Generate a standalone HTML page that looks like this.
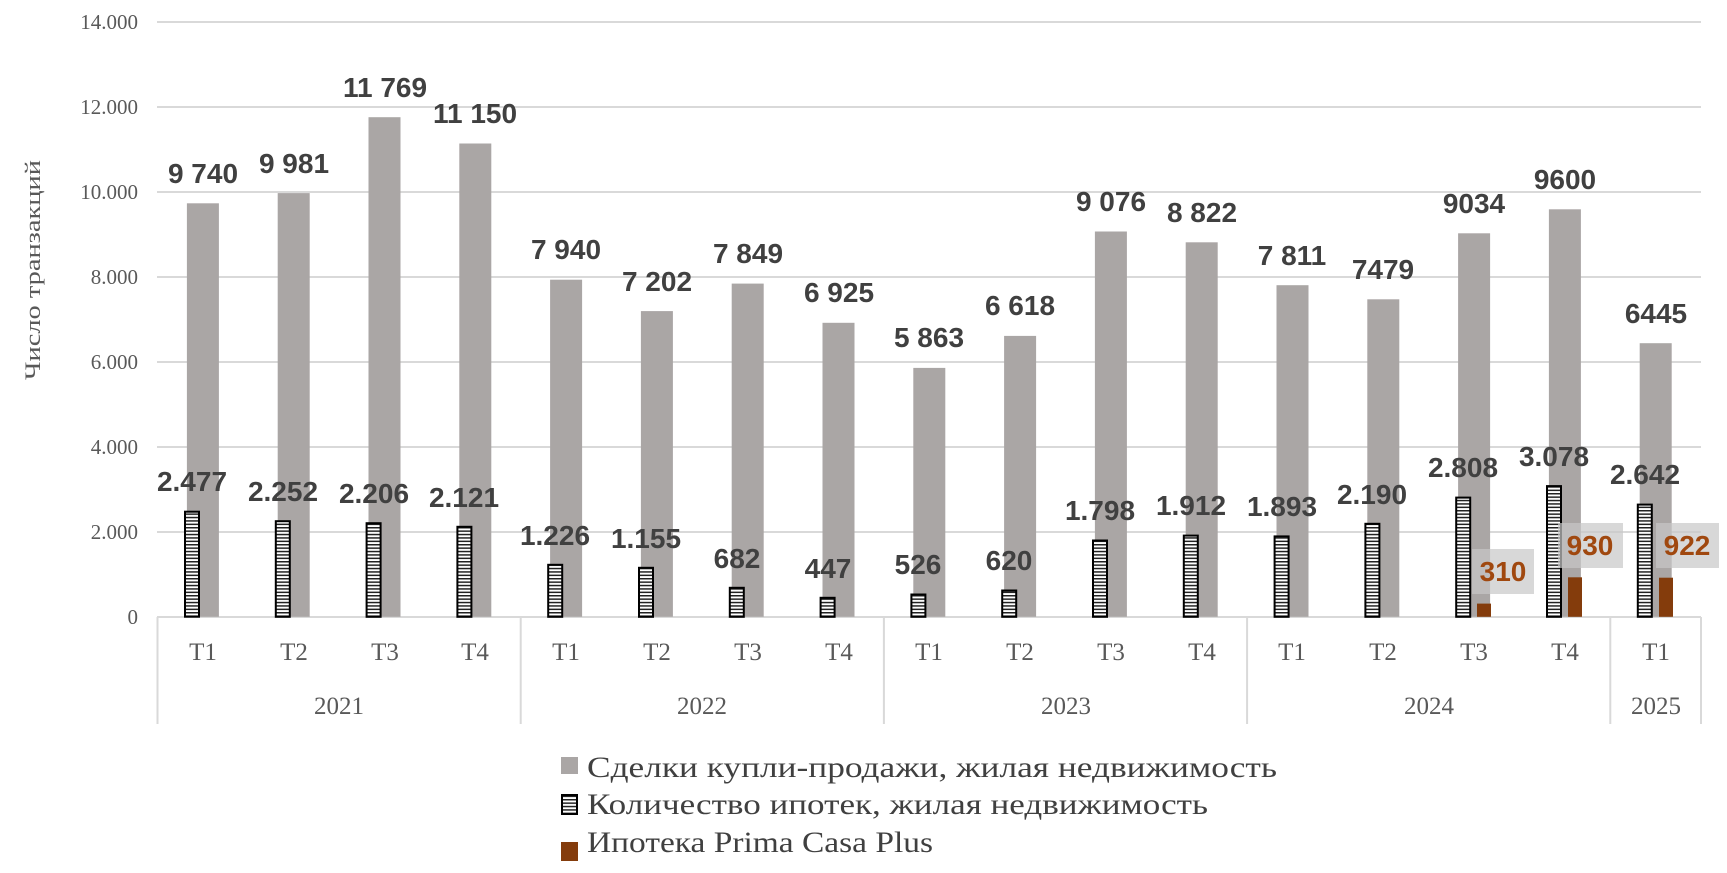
<!DOCTYPE html>
<html><head><meta charset="utf-8"><style>
html,body{margin:0;padding:0;background:#fff;}
svg{display:block;font-family:"Liberation Sans Narrow","Liberation Sans",sans-serif;}
.g{fill:#aaa6a5}
.s{fill:url(#st);stroke:#000;stroke-width:2}
.o{fill:#843c0c}
.gl{font-size:28px;font-weight:bold;fill:#404040;text-anchor:middle}
.ol{font-size:28px;font-weight:bold;fill:#a0480f;text-anchor:middle}
.tk{font-size:21px;fill:#595959;text-anchor:end;font-family:"Liberation Serif",serif}
.ct{font-size:25px;fill:#595959;text-anchor:middle;font-family:"Liberation Serif",serif}
.lg{font-size:30px;fill:#404040;font-family:"Liberation Serif",serif}
</style></head><body>
<svg width="1727" height="873" viewBox="0 0 1727 873" xmlns="http://www.w3.org/2000/svg">
<defs>
<pattern id="st" width="4" height="3.4" patternUnits="userSpaceOnUse">
<rect width="4" height="3.4" fill="#fff"/><rect y="0" width="4" height="1.5" fill="#222"/>
</pattern>
</defs>
<g stroke="#d9d9d9" stroke-width="2">
<line x1="157" y1="22" x2="1701" y2="22"/>
<line x1="157" y1="107" x2="1701" y2="107"/>
<line x1="157" y1="192" x2="1701" y2="192"/>
<line x1="157" y1="277" x2="1701" y2="277"/>
<line x1="157" y1="362" x2="1701" y2="362"/>
<line x1="157" y1="447" x2="1701" y2="447"/>
<line x1="157" y1="532" x2="1701" y2="532"/>
<line x1="157" y1="617" x2="1701" y2="617"/>
<line x1="157.5" y1="617" x2="157.5" y2="724"/>
<line x1="520.7" y1="617" x2="520.7" y2="724"/>
<line x1="883.9" y1="617" x2="883.9" y2="724"/>
<line x1="1247.1" y1="617" x2="1247.1" y2="724"/>
<line x1="1610.3" y1="617" x2="1610.3" y2="724"/>
<line x1="1701" y1="617" x2="1701" y2="724"/>
</g>
<g class="tk">
<text x="138" y="29">14.000</text>
<text x="138" y="114">12.000</text>
<text x="138" y="199">10.000</text>
<text x="138" y="284">8.000</text>
<text x="138" y="369">6.000</text>
<text x="138" y="454">4.000</text>
<text x="138" y="539">2.000</text>
<text x="138" y="624">0</text>
</g>
<text transform="translate(40,270) rotate(-90)" text-anchor="middle" textLength="220" lengthAdjust="spacingAndGlyphs" style="font-size:22px;fill:#595959;font-family:'Liberation Serif',serif">Число транзакций</text>

<g class="g">
<rect x="186.9" y="203.3" width="32" height="413.5"/>
<rect x="277.7" y="193.1" width="32" height="423.7"/>
<rect x="368.5" y="117.2" width="32" height="499.6"/>
<rect x="459.3" y="143.5" width="32" height="473.3"/>
<rect x="550.1" y="279.7" width="32" height="337.1"/>
<rect x="640.9" y="311.1" width="32" height="305.7"/>
<rect x="731.7" y="283.6" width="32" height="333.2"/>
<rect x="822.5" y="322.8" width="32" height="294"/>
<rect x="913.3" y="367.9" width="32" height="248.9"/>
<rect x="1004.1" y="335.9" width="32" height="280.9"/>
<rect x="1094.9" y="231.5" width="32" height="385.3"/>
<rect x="1185.7" y="242.3" width="32" height="374.5"/>
<rect x="1276.5" y="285.2" width="32" height="331.6"/>
<rect x="1367.3" y="299.3" width="32" height="317.5"/>
<rect x="1458.1" y="233.3" width="32" height="383.5"/>
<rect x="1548.9" y="209.3" width="32" height="407.5"/>
<rect x="1639.7" y="343.2" width="32" height="273.6"/>
</g>
<g class="s">
<rect x="185" y="511.7" width="14" height="105"/>
<rect x="275.8" y="521.2" width="14" height="95.6"/>
<rect x="366.6" y="523.2" width="14" height="93.6"/>
<rect x="457.4" y="526.8" width="14" height="90"/>
<rect x="548.2" y="564.8" width="14" height="52"/>
<rect x="639" y="567.8" width="14" height="49"/>
<rect x="729.8" y="587.8" width="14" height="29"/>
<rect x="820.6" y="597.8" width="14" height="19"/>
<rect x="911.4" y="594.5" width="14" height="22.3"/>
<rect x="1002.2" y="590.5" width="14" height="26.3"/>
<rect x="1093" y="540.5" width="14" height="76.3"/>
<rect x="1183.8" y="535.6" width="14" height="81.2"/>
<rect x="1274.6" y="536.4" width="14" height="80.4"/>
<rect x="1365.4" y="523.8" width="14" height="93"/>
<rect x="1456.2" y="497.6" width="14" height="119.2"/>
<rect x="1547" y="486.1" width="14" height="130.7"/>
<rect x="1637.8" y="504.6" width="14" height="112.2"/>
</g>
<g class="o">
<rect x="1477" y="603.6" width="14" height="13.2"/>
<rect x="1568" y="577.3" width="14" height="39.5"/>
<rect x="1659" y="577.7" width="14" height="39.1"/>
</g>
<g class="gl">
<text x="203" y="183">9 740</text>
<text x="294" y="173">9 981</text>
<text x="385" y="97">11 769</text>
<text x="475" y="123">11 150</text>
<text x="566" y="259">7 940</text>
<text x="657" y="291">7 202</text>
<text x="748" y="263">7 849</text>
<text x="839" y="302">6 925</text>
<text x="929" y="347">5 863</text>
<text x="1020" y="315">6 618</text>
<text x="1111" y="211">9 076</text>
<text x="1202" y="222">8 822</text>
<text x="1292" y="265">7 811</text>
<text x="1383" y="279">7479</text>
<text x="1474" y="213">9034</text>
<text x="1565" y="189">9600</text>
<text x="1656" y="323">6445</text>
</g>
<g class="gl">
<text x="192" y="491">2.477</text>
<text x="283" y="501">2.252</text>
<text x="374" y="503">2.206</text>
<text x="464" y="507">2.121</text>
<text x="555" y="545">1.226</text>
<text x="646" y="548">1.155</text>
<text x="737" y="568">682</text>
<text x="828" y="578">447</text>
<text x="918" y="574">526</text>
<text x="1009" y="570">620</text>
<text x="1100" y="520">1.798</text>
<text x="1191" y="515">1.912</text>
<text x="1282" y="516">1.893</text>
<text x="1372" y="504">2.190</text>
<text x="1463" y="477">2.808</text>
<text x="1554" y="466">3.078</text>
<text x="1645" y="484">2.642</text>
</g>
<g fill="#c8c8c8" fill-opacity="0.7">
<rect x="1472" y="549" width="62" height="45"/>
<rect x="1558" y="523" width="65" height="45"/>
<rect x="1656" y="523" width="63" height="45"/>
</g>
<g class="ol">
<text x="1503" y="581">310</text>
<text x="1590" y="555">930</text>
<text x="1687" y="555">922</text>
</g>
<g class="ct">
<text x="203" y="660">T1</text><text x="294" y="660">T2</text><text x="385" y="660">T3</text><text x="475" y="660">T4</text>
<text x="566" y="660">T1</text><text x="657" y="660">T2</text><text x="748" y="660">T3</text><text x="839" y="660">T4</text>
<text x="929" y="660">T1</text><text x="1020" y="660">T2</text><text x="1111" y="660">T3</text><text x="1202" y="660">T4</text>
<text x="1292" y="660">T1</text><text x="1383" y="660">T2</text><text x="1474" y="660">T3</text><text x="1565" y="660">T4</text>
<text x="1656" y="660">T1</text>
<text x="339" y="714">2021</text><text x="702" y="714">2022</text><text x="1066" y="714">2023</text><text x="1429" y="714">2024</text><text x="1656" y="714">2025</text>
</g>
<rect x="561" y="757" width="17" height="17" fill="#aaa6a5"/>
<rect x="562" y="795" width="15" height="19" fill="url(#st)" stroke="#000" stroke-width="2"/>
<rect x="561" y="842" width="17" height="19" fill="#843c0c"/>
<text class="lg" x="587" y="777" textLength="690" lengthAdjust="spacingAndGlyphs">Сделки купли-продажи, жилая недвижимость</text>
<text class="lg" x="587" y="814" textLength="621" lengthAdjust="spacingAndGlyphs">Количество ипотек, жилая недвижимость</text>
<text class="lg" x="587" y="852" textLength="346" lengthAdjust="spacingAndGlyphs">Ипотека Prima Casa Plus</text>
</svg>
</body></html>
